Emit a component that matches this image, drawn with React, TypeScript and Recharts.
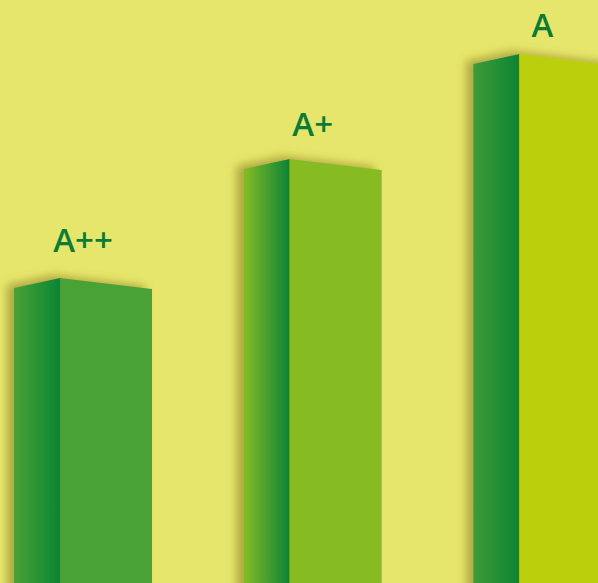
import React from "react";
import { BarChart, Bar, XAxis, YAxis, LabelList } from "recharts";

const classes = ["A++", "A+", "A"];
const heights = [305, 424, 529];

const data = classes.map((name, i) => ({ name, value: heights[i] }));

const frontColors = ["#4aa235", "#87bb24", "#bbcf09"];
const sideLeftColors = ["#4aa235", "#87bb24", "#3f9b34"];
const sideRightColor = "#0b8436";
const labelGaps = [26, 23, 17];

const BarShape = (props: any) => {
  const { x, y, width, height, index } = props;
  const side = 46;
  const bottom = y + height;
  const xm = x + side;
  const xr = x + width;
  const gid = `sideGrad${index}`;
  const fid = `shadow${index}`;
  return (
    <g>
      <defs>
        <linearGradient id={gid} x1="0" y1="0" x2="1" y2="0">
          <stop offset="0%" stopColor={sideLeftColors[index]} />
          <stop offset="100%" stopColor={sideRightColor} />
        </linearGradient>
        <filter id={fid} x="-30%" y="-10%" width="160%" height="130%">
          <feDropShadow dx={-7} dy={-3} stdDeviation={4} floodColor="#7d6a14" floodOpacity={0.5} />
        </filter>
      </defs>
      <g filter={`url(#${fid})`}>
        <path d={`M${x},${y + 10} L${xm},${y} L${xm},${bottom + 20} L${x},${bottom + 20} Z`} fill={`url(#${gid})`} />
        <path d={`M${xm},${y} L${xr},${y + 11} L${xr},${bottom + 20} L${xm},${bottom + 20} Z`} fill={frontColors[index]} />
      </g>
    </g>
  );
};

const renderLabel = (props: any) => {
  const { x, y, width, value, index } = props;
  return (
    <text
      x={x + width / 2}
      y={y - labelGaps[index]}
      textAnchor="middle"
      fill="#0b7b36"
      fontFamily="'Open Sans', sans-serif"
      fontWeight={600}
      fontSize={33}
    >
      {value}
    </text>
  );
};

export default function App() {
  return (
    <div
      style={{
        position: "absolute",
        left: 0,
        top: 0,
        width: 598,
        height: 583,
        overflow: "hidden",
        background: "#e6e66c",
      }}
    >
      <div style={{ position: "absolute", left: -32, top: 0 }}>
        <BarChart width={689} height={583} data={data} margin={{ top: 0, right: 0, left: 0, bottom: 0 }}>
          <XAxis dataKey="name" hide />
          <YAxis hide domain={[0, 583]} />
          <Bar dataKey="value" barSize={138} shape={<BarShape />} isAnimationActive={false}>
            <LabelList dataKey="name" content={renderLabel} />
          </Bar>
        </BarChart>
      </div>
    </div>
  );
}
